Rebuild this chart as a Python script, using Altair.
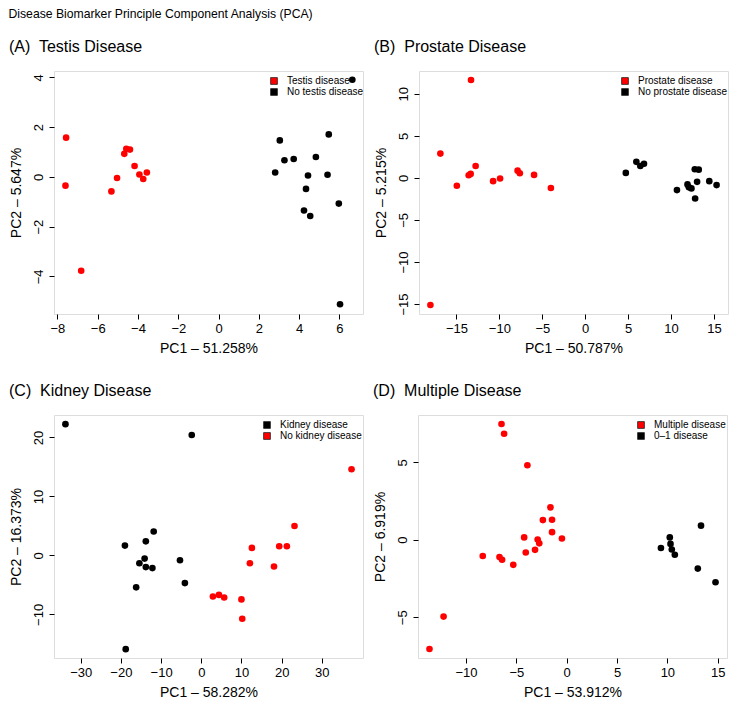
import altair as alt
import pandas as pd

FONT = "Liberation Sans"

# ---------------- Panel A: Testis disease ----------------
a_red_x = [-7.57, -7.60, -6.82, -5.32, -5.04, -4.68, -4.58, -4.40, -4.17, -3.93, -3.74, -3.56]
a_red_y = [1.58, -0.35, -3.77, -0.58, -0.04, 0.93, 1.13, 1.10, 0.44, 0.10, -0.08, 0.18]
a_blk_x = [6.64, 3.04, 3.27, 3.73, 2.81, 5.47, 4.83, 4.44, 5.41, 4.34, 4.24, 4.55, 5.97, 6.03]
a_blk_y = [3.91, 1.47, 0.67, 0.72, 0.18, 1.71, 0.80, 0.06, 0.09, -0.48, -1.35, -1.57, -1.07, -5.12]
a_groups = ["Testis disease", "No testis disease"]

# ---------------- Panel B: Prostate disease ----------------
b_red_x = [-13.31, -16.88, -14.96, -13.58, -13.35, -12.77, -10.73, -9.92, -7.88, -7.62, -5.96, -4.00, -18.04]
b_red_y = [11.64, 2.89, -0.94, 0.31, 0.47, 1.41, -0.39, -0.08, 0.86, 0.55, 0.35, -1.21, -15.12]
b_blk_x = [4.73, 5.96, 6.42, 6.85, 10.69, 11.92, 12.08, 12.38, 12.77, 13.23, 13.04, 12.81, 14.46, 15.31]
b_blk_y = [0.59, 1.91, 1.41, 1.68, -1.45, -0.78, -1.13, -1.25, 1.02, 0.98, -0.47, -2.46, -0.39, -0.86]
b_groups = ["Prostate disease", "No prostate disease"]

# ---------------- Panel C: Kidney disease ----------------
c_blk_x = [-33.8, -2.37, -19.0, -11.84, -13.8, -14.1, -15.4, -13.8, -12.16, -16.2, -5.3, -4.08, -18.8]
c_blk_y = [22.25, 20.4, 1.66, 4.04, 2.38, -0.55, -1.33, -1.99, -2.16, -5.42, -0.83, -4.7, -15.9]
c_red_x = [37.4, 23.2, 21.3, 19.4, 12.6, 12.1, 18.1, 2.9, 4.4, 5.7, 10.0, 10.2]
c_red_y = [14.6, 4.98, 1.55, 1.55, 1.27, -1.33, -1.88, -6.97, -6.7, -7.14, -7.47, -10.74]
c_groups = ["Kidney disease", "No kidney disease"]

# ---------------- Panel D: Multiple disease ----------------
d_red_x = [-6.47, -6.21, -3.90, -1.61, -2.36, -1.45, -1.45, -0.47, -4.22, -2.88, -2.72, -3.14,
           -4.06, -8.33, -6.67, -6.41, -5.30, -12.22, -13.62]
d_red_y = [7.47, 6.84, 4.81, 2.09, 1.27, 1.29, 0.49, 0.08, 0.15, 0.02, -0.23, -0.65,
           -0.82, -1.05, -1.12, -1.29, -1.62, -4.96, -7.05]
d_blk_x = [13.34, 10.24, 9.36, 10.31, 10.44, 10.74, 13.02, 14.78]
d_blk_y = [0.91, 0.15, -0.53, -0.27, -0.63, -0.97, -1.86, -2.74]
d_groups = ["Multiple disease", "0\u20131 disease"]

RED = "#FF0000"
BLACK = "#000000"
W, H = 309, 243


def axis(values, title, vertical=False):
    kw = dict(values=values, title=title, format="d", grid=False, domain=False,
              tickColor="black", tickSize=5, tickWidth=1,
              labelColor="black", labelFont=FONT, labelFontSize=13, labelPadding=3,
              titleColor="black", titleFont=FONT, titleFontSize=14, titleFontWeight="normal",
              titlePadding=6)
    if vertical:
        kw.update(labelAngle=270, labelAlign="center", labelBaseline="bottom",
                  labelPadding=4, titlePadding=9)
    return alt.Axis(**kw)


def panel(title, xs1, ys1, xs2, ys2, groups, colors, xdom, ydom, xticks, yticks,
          xtitle, ytitle, legend_x):
    df = pd.DataFrame({
        "x": xs1 + xs2,
        "y": ys1 + ys2,
        "g": [groups[0]] * len(xs1) + [groups[1]] * len(xs2),
    })
    return alt.Chart(df, title=alt.Title(
        title, anchor="start", frame="bounds", fontSize=16, fontWeight="normal",
        font=FONT, color="black", offset=16)).mark_circle(size=44, opacity=1).encode(
        x=alt.X("x:Q", scale=alt.Scale(domain=xdom, nice=False, zero=False),
                axis=axis(xticks, xtitle)),
        y=alt.Y("y:Q", scale=alt.Scale(domain=ydom, nice=False, zero=False),
                axis=axis(yticks, ytitle, vertical=True)),
        color=alt.Color("g:N", scale=alt.Scale(domain=groups, range=colors),
                        legend=alt.Legend(orient="none", legendX=legend_x, legendY=5, title=None,
                                          symbolType="square", symbolSize=46,
                                          symbolStrokeColor="#222222", symbolStrokeWidth=0.8,
                                          labelFontSize=10, labelFont=FONT, labelColor="black",
                                          labelOffset=8, rowPadding=1, padding=0)),
    ).properties(width=W, height=H)


NB = "\u00a0 "
pA = panel("(A)" + NB + "Testis Disease", a_red_x, a_red_y, a_blk_x, a_blk_y, a_groups, [RED, BLACK],
           [-8.17, 7.17], [-5.51, 4.26], [-8, -6, -4, -2, 0, 2, 4, 6], [-4, -2, 0, 2, 4],
           "PC1 \u2013 51.258%", "PC2 \u2013 5.647%", 215)
pB = panel("(B)" + NB + "Prostate Disease", b_red_x, b_red_y, b_blk_x, b_blk_y, b_groups, [RED, BLACK],
           [-19.37, 16.64], [-16.19, 12.71], [-15, -10, -5, 0, 5, 10, 15], [-15, -10, -5, 0, 5, 10],
           "PC1 \u2013 50.787%", "PC2 \u2013 5.215%", 201)
pC = panel("(C)" + NB + "Kidney Disease", c_blk_x, c_blk_y, c_red_x, c_red_y, c_groups, [BLACK, RED],
           [-36.65, 40.25], [-17.4, 23.8], [-30, -20, -10, 0, 10, 20, 30], [-10, 0, 10, 20],
           "PC1 \u2013 58.282%", "PC2 \u2013 16.373%", 208)
pD = panel("(D)" + NB + "Multiple Disease", d_red_x, d_red_y, d_blk_x, d_blk_y, d_groups, [RED, BLACK],
           [-14.76, 15.92], [-7.63, 8.05], [-10, -5, 0, 5, 10, 15], [-5, 0, 5],
           "PC1 \u2013 53.912%", "PC2 \u2013 6.919%", 218)

top = alt.hconcat(pA, pB, spacing=8).resolve_scale(color="independent")
bottom = alt.hconcat(pC, pD, spacing=8).resolve_scale(color="independent")

chart = alt.vconcat(top, bottom, spacing=26).resolve_scale(color="independent").properties(
    title=alt.Title("Disease Biomarker Principle Component Analysis (PCA)", anchor="start",
                    fontSize=12.2, fontWeight="normal", font=FONT, color="black", offset=18),
    padding={"left": 0, "top": 0, "right": 2, "bottom": 2},
).configure_view(
    stroke="black", strokeWidth=1
).configure(background="white")

chart.save("out.html", embed_options={"renderer": "svg", "actions": False})
